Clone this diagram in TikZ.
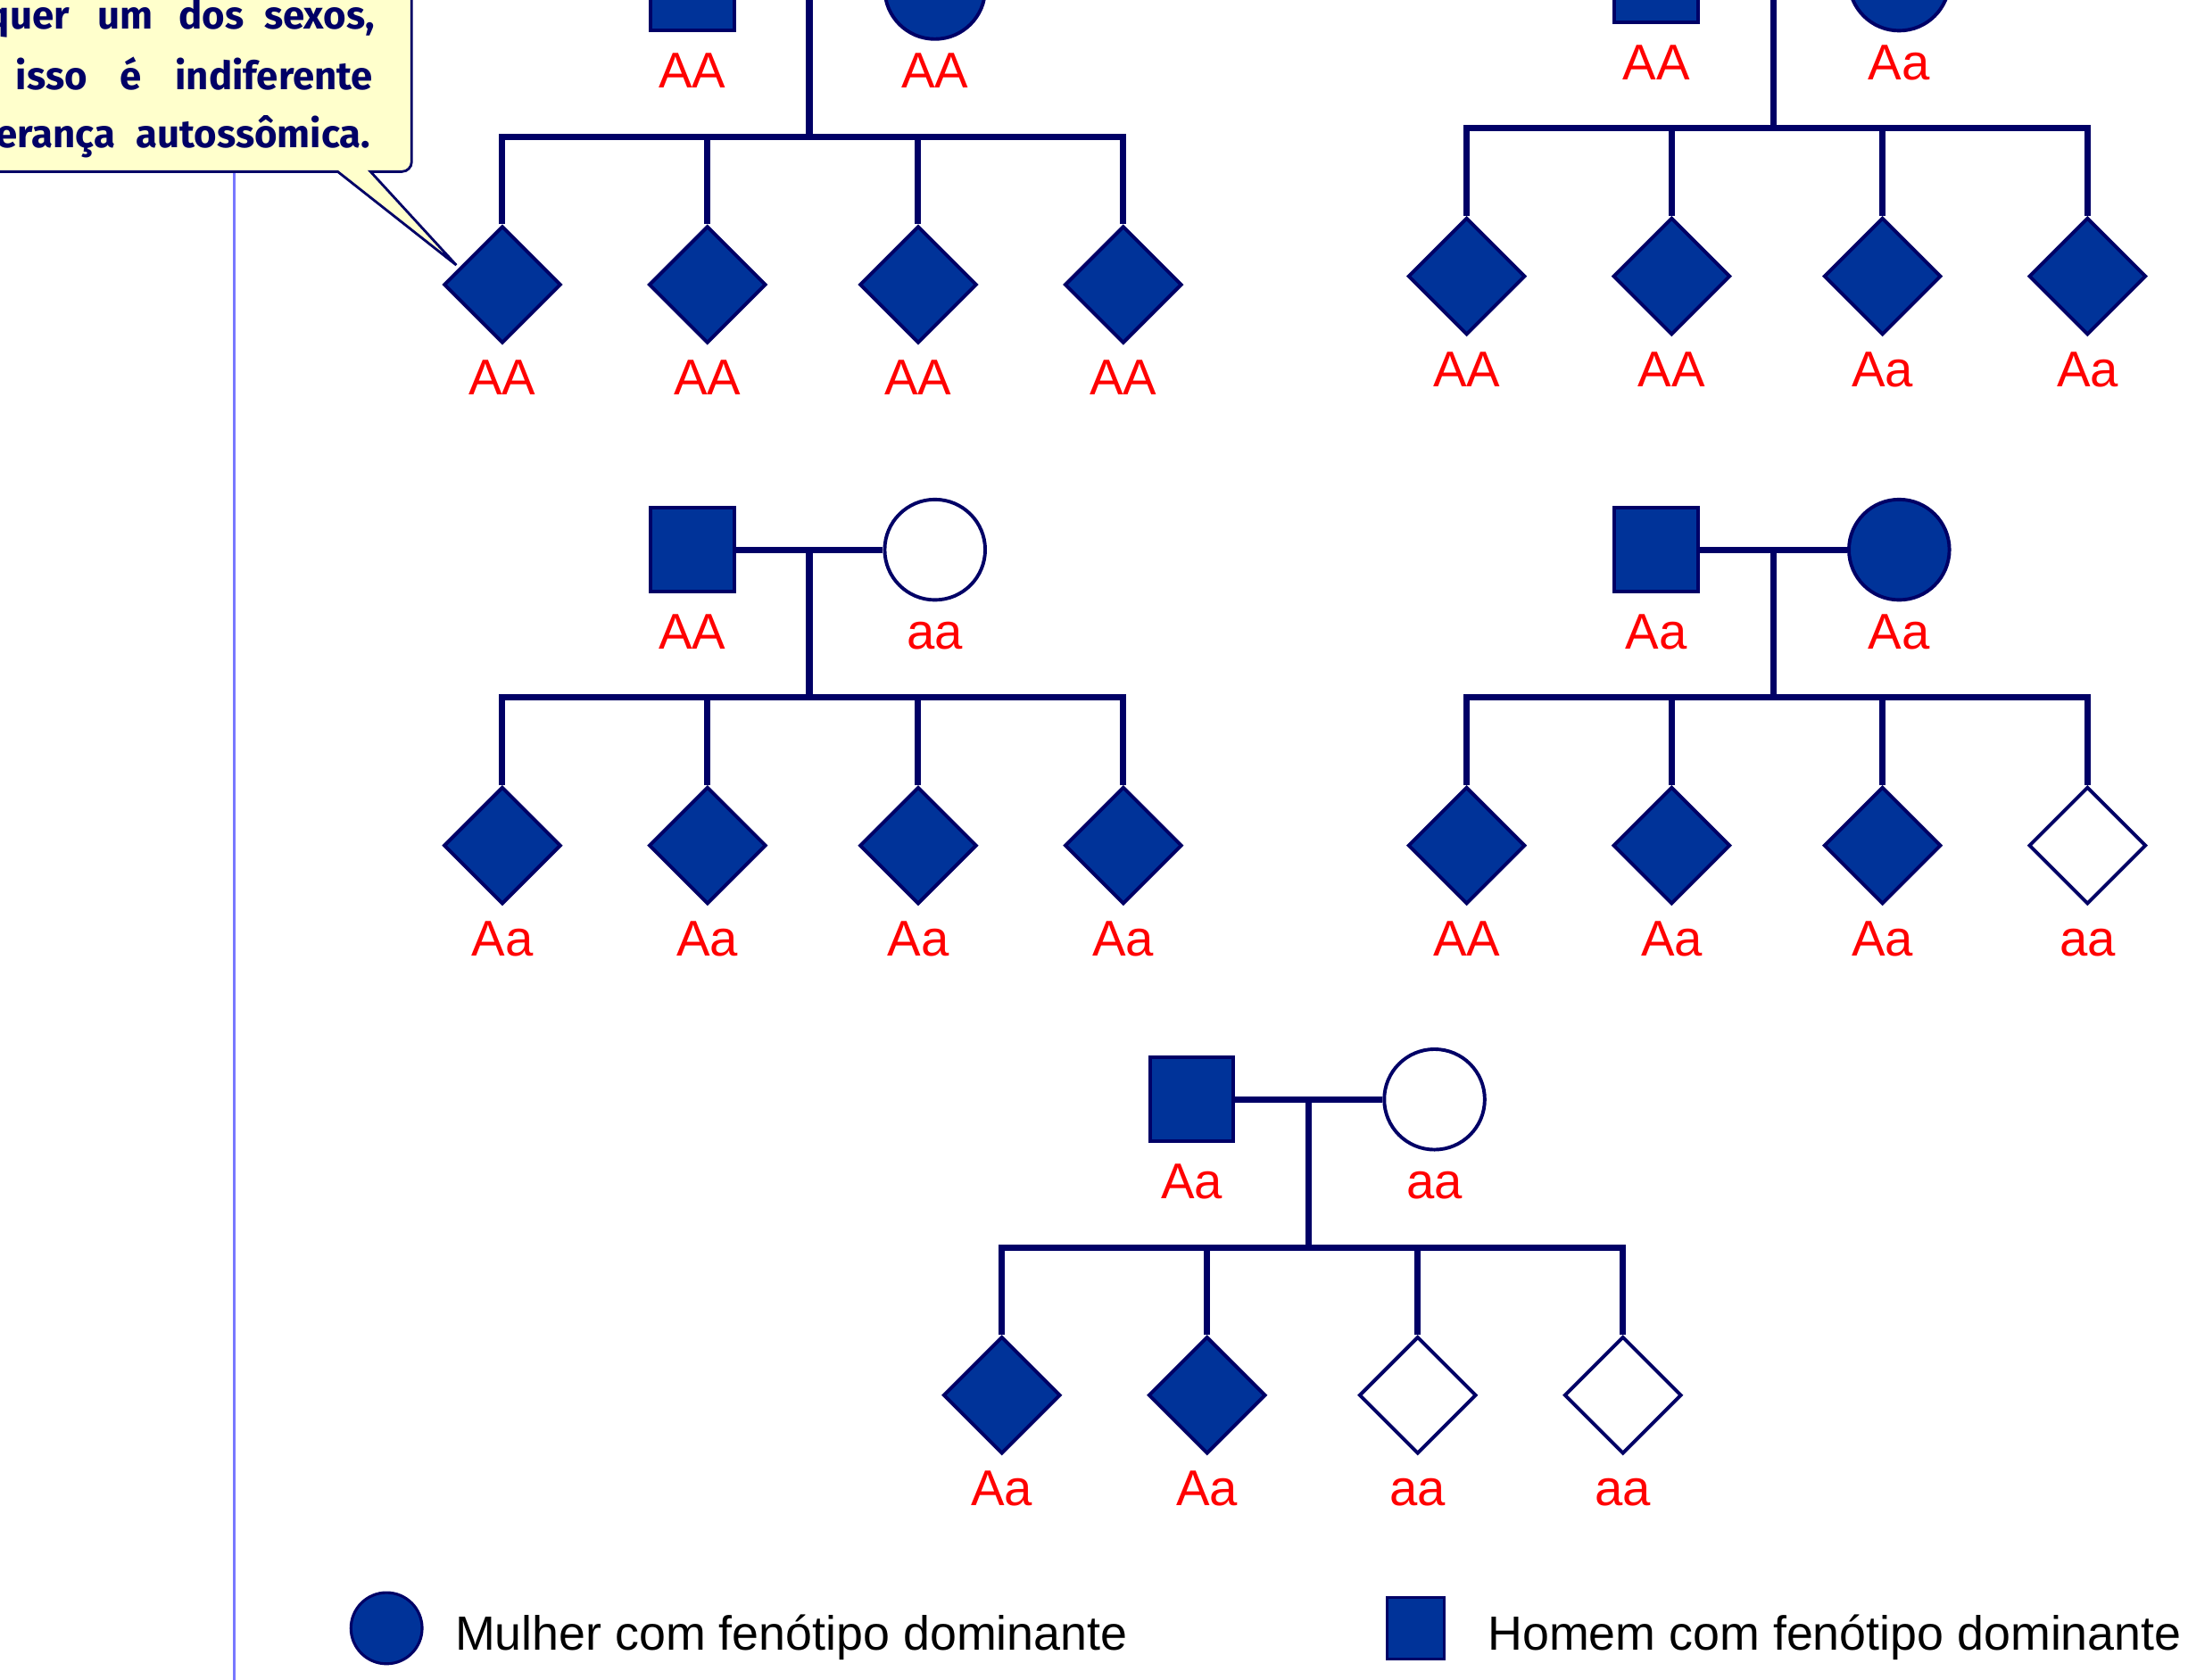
\documentclass[tikz,border=0pt]{standalone}
\usepackage{fontspec}
\setmainfont{Liberation Sans}
\newfontfamily\callfont{Fira Sans}
\usetikzlibrary{shapes.geometric}
\definecolor{navy}{RGB}{0,0,102}
\definecolor{fillb}{RGB}{0,51,153}
\definecolor{lbred}{RGB}{255,0,0}
\definecolor{calloutbg}{RGB}{255,255,204}
\definecolor{guide}{RGB}{120,120,255}
\tikzset{
  sq/.style={rectangle,draw=navy,fill=fillb,line width=2.5pt,minimum size=60pt,inner sep=0pt},
  ci/.style={circle,draw=navy,line width=2.5pt,minimum size=72pt,inner sep=0pt},
  kid/.style={diamond,aspect=1,draw=navy,line width=2.5pt,minimum width=84pt,minimum height=84pt,inner sep=0pt},
  lbl/.style={anchor=base,text=lbred,inner sep=0pt,font=\fontsize{36}{40}\selectfont},
  conn/.style={draw=navy,line width=4.5pt,line join=miter},
  ctext/.style={anchor=base,text=navy,inner sep=0pt,font=\callfont\bfseries\fontsize{28}{34}\selectfont},
  legtext/.style={anchor=base west,text=black,inner sep=0pt,font=\fontsize{34.4}{40}\selectfont}
}
\newcommand\pedigree[7]{%
  \begin{scope}[shift={(#2,#3)}]
    \node[sq] (#1f) at (-84,0) {};
    \node[ci,fill=#5] (#1m) at (90,0) {};
    \node[lbl] (#1fl) at (-84,71) {#4};
    \node[lbl] (#1ml) at (90,71) {#6};
    \coordinate (#1v) at (0,0);
    \coordinate (#1s) at (0,106);
    \foreach \cx/\st/\lb [count=\i] in {#7}{
      \node[kid,fill=\st] (#1c\i) at (\cx,212) {};
      \node[lbl] (#1l\i) at (\cx,291) {\lb};
    }
    \draw[conn] (#1f.east) -- (#1m.west);
    \draw[conn] (#1v) -- (#1s);
    \draw[conn] (#1c1.north) |- (#1s) -| (#1c4.north);
    \draw[conn] (#1c2.north) -- (#1c2.north |- #1s);
    \draw[conn] (#1c3.north) -- (#1c3.north |- #1s);
  \end{scope}}
\begin{document}
\begin{tikzpicture}[x=1pt,y=-1pt]
\useasboundingbox (0,0) rectangle (1568,1204);
\fill[white] (0,0) rectangle (1568,1204);
% guide line
\coordinate (gtop) at (168,110);
\coordinate (gbot) at (168,1210);
\draw[guide,line width=2pt] (gtop) -- (gbot);
% callout
\coordinate (ptip) at (327,190);
\filldraw[fill=calloutbg,draw=navy,line width=1.8pt]
  (-60,-60) -- (295,-60) [rounded corners=7pt]-- (295,123) [sharp corners]-- (265.5,123) -- (ptip) -- (242,123) -- (-60,123) -- cycle;
\node[ctext,anchor=base east] (cq) at (50,21) {quer};
\node[ctext] (cum) at (90,21) {um};
\node[ctext] (cdos) at (151.5,21) {dos};
\node[ctext] (csex) at (229,21) {sexos,};
\node[ctext] (cisso) at (37,64) {isso};
\node[ctext] (ce) at (93.5,64) {é};
\node[ctext] (cind) at (196.5,64) {indiferente};
\node[ctext,anchor=base east] (cer) at (83,106) {erança};
\node[ctext] (caut) at (181.5,106) {autossômica.};
% pedigrees
\pedigree{a}{580}{-8}{AA}{fillb}{AA}{-220/fillb/AA,-73/fillb/AA,78/fillb/AA,225/fillb/AA}
\pedigree{b}{1271}{-14}{AA}{fillb}{Aa}{-220/fillb/AA,-73/fillb/AA,78/fillb/Aa,225/fillb/Aa}
\pedigree{c}{580}{394}{AA}{white}{aa}{-220/fillb/Aa,-73/fillb/Aa,78/fillb/Aa,225/fillb/Aa}
\pedigree{d}{1271}{394}{Aa}{fillb}{Aa}{-220/fillb/AA,-73/fillb/Aa,78/fillb/Aa,225/white/aa}
\pedigree{e}{938}{788}{Aa}{white}{aa}{-220/fillb/Aa,-73/fillb/Aa,78/white/aa,225/white/aa}
% legend
\node[circle,draw=navy,fill=fillb,line width=2pt,minimum size=51pt,inner sep=0pt] (lgw) at (277,1167) {};
\node[legtext] (lgwt) at (326,1183) {Mulher com fenótipo dominante};
\node[rectangle,draw=navy,fill=fillb,line width=2pt,minimum width=41pt,minimum height=44pt,inner sep=0pt] (lgm) at (1014.5,1167) {};
\node[legtext] (lgmt) at (1066,1183) {Homem com fenótipo dominante};
\end{tikzpicture}
\end{document}
